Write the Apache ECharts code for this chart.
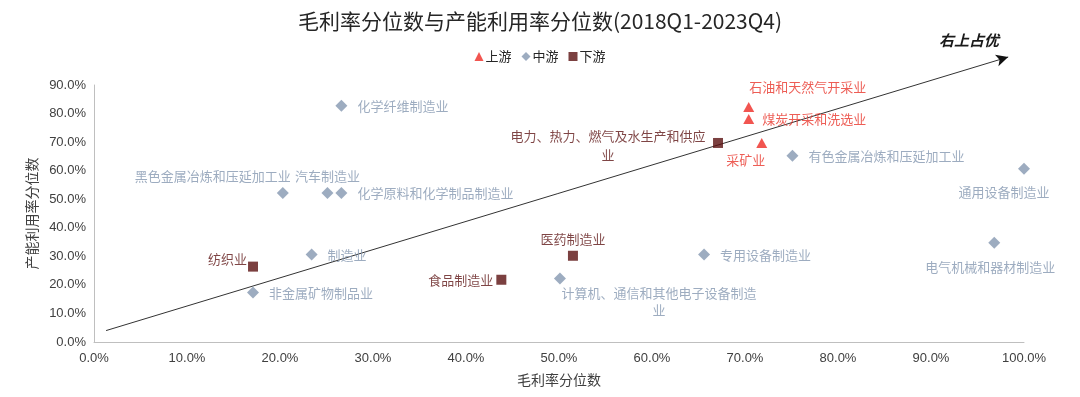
<!DOCTYPE html>
<html>
<head>
<meta charset="utf-8">
<script src="https://cdn.jsdelivr.net/npm/echarts@6/dist/echarts.min.js"></script>
<style>
  html, body { margin: 0; padding: 0; background: #fff; }
  #chart { width: 1080px; height: 397px; }
</style>
</head>
<body>
<div id="chart"></div>
<script>
// 数据：[毛利率分位数, 产能利用率分位数, 行业]
var upstream = [
  [70.4, 82.3, '石油和天然气开采业'],
  [70.4, 78.1, '煤炭开采和洗选业'],
  [71.8, 69.7, '采矿业']
];
var midstream = [
  [26.6, 82.7, '化学纤维制造业'],
  [20.3, 52.2, '黑色金属冶炼和压延加工业'],
  [25.1, 52.2, '汽车制造业'],
  [26.6, 52.2, '化学原料和化学制品制造业'],
  [23.4, 30.6, '制造业'],
  [17.1, 17.3, '非金属矿物制品业'],
  [50.1, 22.2, '计算机、通信和其他电子设备制造业'],
  [65.6, 30.6, '专用设备制造业'],
  [75.1, 65.2, '有色金属冶炼和压延加工业'],
  [100.0, 60.7, '通用设备制造业'],
  [96.8, 34.8, '电气机械和器材制造业']
];
var downstream = [
  [17.1, 26.4, '纺织业'],
  [43.8, 21.8, '食品制造业'],
  [51.5, 30.2, '医药制造业'],
  [67.1, 69.7, '电力、热力、燃气及水生产和供应业']
];
var trendLine = [[1.3, 4.0], [98.3, 99.8]];
var yTicks = [0, 10, 20, 30, 40, 50, 60, 70, 80, 90];

// 标签摆放
var labelPos = {
  '石油和天然气开采业': { position: 'top', distance: 8, offset: [59, 0] },
  '煤炭开采和洗选业': { position: 'right', distance: 8 },
  '采矿业': { position: 'bottom', distance: 6, offset: [-16, 0] },
  '化学纤维制造业': { position: 'right', distance: 10 },
  '黑色金属冶炼和压延加工业': { position: 'top', distance: 4, align: 'right', offset: [8, 0] },
  '汽车制造业': { position: 'top', distance: 4 },
  '化学原料和化学制品制造业': { position: 'right', distance: 10 },
  '制造业': { position: 'right', distance: 10 },
  '非金属矿物制品业': { position: 'right', distance: 10 },
  '计算机、通信和其他电子设备制造业': { position: 'bottom', distance: 0, width: 200, overflow: 'break', lineHeight: 17, offset: [99, 0] },
  '专用设备制造业': { position: 'right', distance: 10 },
  '有色金属冶炼和压延加工业': { position: 'right', distance: 10 },
  '通用设备制造业': { position: 'bottom', distance: 11, offset: [-20, 0] },
  '电气机械和器材制造业': { position: 'bottom', distance: 12, offset: [-4, 0] },
  '纺织业': { position: 'left', distance: 1, offset: [0, -8] },
  '食品制造业': { position: 'left', distance: 3 },
  '医药制造业': { position: 'top', distance: 5 },
  '电力、热力、燃气及水生产和供应业': { position: 'left', distance: 0, align: 'center', width: 200, overflow: 'break', lineHeight: 19, offset: [-105, 3] }
};

var FONT = '"Noto Sans CJK SC", "Liberation Sans", sans-serif';

function withLabels(rows) {
  return rows.map(function (r) {
    return { value: r, name: r[2], label: labelPos[r[2]] || {} };
  });
}

var option = {
  animation: false,
  backgroundColor: '#fff',
  textStyle: { fontFamily: FONT },
  title: [
    {
      text: '毛利率分位数与产能利用率分位数(2018Q1-2023Q4)',
      left: 'center',
      top: 6,
      textStyle: { fontSize: 21, fontWeight: 'normal', color: '#262626', fontFamily: FONT }
    },
    {
      text: '右上占优',
      left: 934,
      top: 28,
      textStyle: { fontSize: 15, fontWeight: 'bold', fontStyle: 'italic', color: '#1a1a1a', fontFamily: FONT }
    }
  ],
  legend: {
    top: 45,
    left: 'center',
    itemWidth: 9,
    itemHeight: 9,
    itemGap: 10,
    textStyle: { fontSize: 13, color: '#262626', padding: [0, 0, 0, -3] },
    data: [
      { name: '上游', icon: 'triangle' },
      { name: '中游', icon: 'diamond' },
      { name: '下游', icon: 'rect' }
    ]
  },
  grid: { left: 94, right: 56, top: 85, bottom: 55 },
  xAxis: {
    type: 'value',
    min: 0,
    max: 100,
    interval: 10,
    name: '毛利率分位数',
    nameLocation: 'middle',
    nameGap: 31,
    nameTextStyle: { fontSize: 14, color: '#404040' },
    axisLine: { lineStyle: { color: '#bfbfbf' } },
    axisTick: { show: false },
    splitLine: { show: false },
    axisLabel: {
      fontSize: 13,
      color: '#404040',
      margin: 10,
      fontFamily: '"Liberation Sans", Arial, sans-serif',
      formatter: function (v) { return v.toFixed(1) + '%'; }
    }
  },
  yAxis: {
    type: 'value',
    min: yTicks[0],
    max: yTicks[yTicks.length - 1],
    interval: 10,
    name: '产能利用率分位数',
    nameLocation: 'middle',
    nameGap: 55,
    nameTextStyle: { fontSize: 14, color: '#404040' },
    axisLine: { show: true, lineStyle: { color: '#bfbfbf' } },
    axisTick: { show: false },
    splitLine: { show: false },
    axisLabel: {
      fontSize: 13,
      color: '#404040',
      margin: 8,
      fontFamily: '"Liberation Sans", Arial, sans-serif',
      formatter: function (v) { return v.toFixed(1) + '%'; }
    }
  },
  series: [
    {
      name: 'trend',
      type: 'line',
      clip: false,
      silent: true,
      z: 1,
      showSymbol: true,
      symbol: 'none',
      lineStyle: { color: '#333', width: 1 },
      data: [
        { value: trendLine[0], symbol: 'none' },
        { value: trendLine[1], symbol: 'arrow', symbolSize: [9, 12], symbolOffset: [0, 0], itemStyle: { color: '#111' } }
      ]
    },
    {
      name: '上游',
      type: 'scatter',
      symbol: 'triangle',
      symbolSize: [11, 10],
      itemStyle: { color: '#ee2a24' },
      label: { show: true, formatter: '{b}', fontSize: 13, color: '#e8342b' },
      data: withLabels(upstream)
    },
    {
      name: '中游',
      type: 'scatter',
      symbol: 'diamond',
      symbolSize: 12,
      itemStyle: { color: '#8497b0' },
      label: { show: true, formatter: '{b}', fontSize: 13, color: '#8497b0' },
      data: withLabels(midstream)
    },
    {
      name: '下游',
      type: 'scatter',
      symbol: 'rect',
      symbolSize: 10,
      itemStyle: { color: '#5a1010' },
      label: { show: true, formatter: '{b}', fontSize: 13, color: '#5f1616' },
      data: withLabels(downstream)
    }
  ]
};

var chart = echarts.init(document.getElementById('chart'));
chart.setOption(option);

// 箭头方向取自趋势线在画布上的走向
var p0 = chart.convertToPixel({ gridIndex: 0 }, trendLine[0]);
var p1 = chart.convertToPixel({ gridIndex: 0 }, trendLine[1]);
var ang = Math.atan2(p0[1] - p1[1], p1[0] - p0[0]) * 180 / Math.PI;
chart.setOption({
  series: [{
    name: 'trend',
    data: [
      { value: trendLine[0], symbol: 'none' },
      { value: trendLine[1], symbol: 'arrow', symbolSize: [9, 12], symbolRotate: ang - 90, itemStyle: { color: '#111' } }
    ]
  }]
});
</script>
</body>
</html>
